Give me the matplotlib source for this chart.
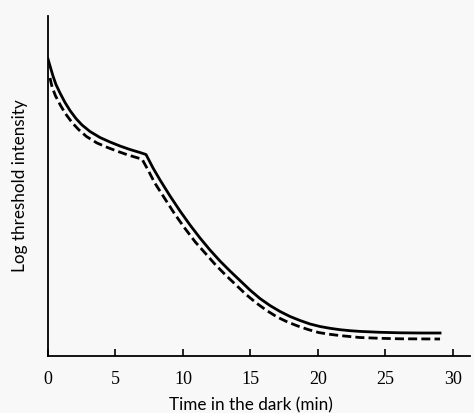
import numpy as np
import matplotlib
matplotlib.use("Agg")
import matplotlib.pyplot as plt

plt.rcParams['lines.scale_dashes'] = False

# dark adaptation curve, time in minutes vs log threshold (arbitrary units)
t_solid = [0.00, 0.15, 0.37, 0.59, 0.89, 1.26, 1.63, 2.07, 2.52, 3.11, 3.85,
           4.59, 5.33, 6.07, 6.81, 7.26, 7.78, 8.30, 9.04, 9.78, 10.52, 11.26,
           12.00, 12.74, 13.48, 14.22, 14.96, 15.70, 16.44, 17.19, 17.93, 18.67,
           19.41, 20.15, 20.89, 21.63, 22.37, 23.11, 24.59, 26.07, 27.56, 29.04]
y_solid = [5.94, 5.80, 5.60, 5.43, 5.26, 5.07, 4.91, 4.75, 4.62, 4.49, 4.37,
           4.28, 4.20, 4.13, 4.07, 4.03, 3.76, 3.52, 3.20, 2.90, 2.62, 2.36,
           2.12, 1.90, 1.70, 1.51, 1.32, 1.15, 1.01, 0.89, 0.79, 0.71,
           0.64, 0.59, 0.554, 0.526, 0.506, 0.492, 0.474, 0.464, 0.46, 0.46]

t_dash = [0.15, 0.30, 0.56, 0.93, 1.31, 1.78, 2.26, 2.85, 3.63, 4.41, 5.19,
          5.93, 6.67, 6.96, 7.41, 7.91, 8.67, 9.41, 10.15, 10.91, 11.67, 12.42,
          13.19, 13.93, 14.67, 15.43, 16.20, 16.97, 17.74, 18.50, 19.26, 20.04,
          20.81, 21.58, 23.08, 24.59, 26.07, 29.04]
y_dash = [5.56, 5.38, 5.20, 5.01, 4.84, 4.67, 4.53, 4.39, 4.26, 4.17, 4.09,
          4.02, 3.96, 3.94, 3.72, 3.46, 3.14, 2.83, 2.55, 2.28, 2.05, 1.82,
          1.61, 1.42, 1.23, 1.06, 0.91, 0.78, 0.68, 0.60, 0.53, 0.47,
          0.436, 0.41, 0.37, 0.354, 0.344, 0.34]

xticks = [0, 5, 10, 15, 20, 25, 30]

fig = plt.figure(figsize=(4.74, 4.14), dpi=100)
fig.patch.set_facecolor('#f8f8f8')
ax = fig.add_axes([48 / 474, 57 / 414, 422 / 474, 340 / 414])
ax.set_facecolor('#f8f8f8')

ax.plot(t_solid, y_solid, color='black', lw=2.0, solid_joinstyle='round')
ax.plot(t_dash, y_dash, color='black', lw=2.0, dashes=(6.5, 3))

ax.set_xlim(0, 422 / 13.5)
ax.set_ylim(0, 6.8)
ax.set_xticks(xticks)
ax.set_xticklabels([str(v) for v in xticks], family='Liberation Serif', fontsize=13)
ax.set_yticks([])
ax.tick_params(axis='x', direction='in', length=5, width=1.2, pad=10)
for s in ['top', 'right']:
    ax.spines[s].set_visible(False)
ax.spines['left'].set_linewidth(1.3)
ax.spines['bottom'].set_linewidth(1.3)

fig.text(251 / 474, 1 - 405 / 414, 'Time in the dark (min)', family='Lato',
         fontsize=12.3, ha='center', va='center')
fig.text(20 / 474, 1 - 186 / 414, 'Log threshold intensity', family='Lato',
         fontsize=12.3, ha='center', va='center', rotation=90)

fig.savefig('out.png', dpi=100, facecolor=fig.get_facecolor())
